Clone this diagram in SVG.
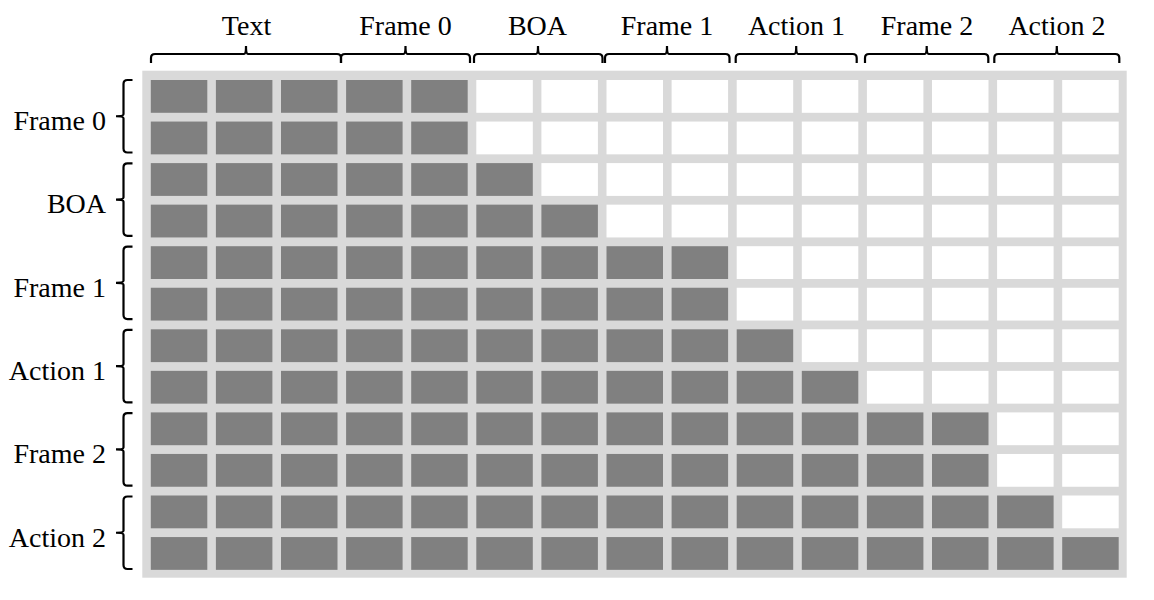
<svg xmlns="http://www.w3.org/2000/svg" width="1154" height="600" viewBox="0 0 1154 600">
<style>
.lbl{font-family:"Liberation Serif","Times New Roman",serif;font-size:28px;fill:#000}
.top{text-anchor:middle}
.left{text-anchor:end}
.on{fill:#808080}
.off{fill:#ffffff}
.brace{fill:none;stroke:#000;stroke-width:2.2}
</style>
<defs>
<rect id="c" width="56.5" height="32.8"/>
</defs>
<rect id="grid-bg" x="142.3" y="70.7" width="984.4" height="507" fill="#d9d9d9"/>
<g id="grid">
<g id="row0"><use href="#c" class="on" x="150.8" y="80"/><use href="#c" class="on" x="215.9" y="80"/><use href="#c" class="on" x="281" y="80"/><use href="#c" class="on" x="346.1" y="80"/><use href="#c" class="on" x="411.2" y="80"/><use href="#c" class="off" x="476.3" y="80"/><use href="#c" class="off" x="541.4" y="80"/><use href="#c" class="off" x="606.5" y="80"/><use href="#c" class="off" x="671.6" y="80"/><use href="#c" class="off" x="736.7" y="80"/><use href="#c" class="off" x="801.8" y="80"/><use href="#c" class="off" x="866.9" y="80"/><use href="#c" class="off" x="932" y="80"/><use href="#c" class="off" x="997.1" y="80"/><use href="#c" class="off" x="1062.2" y="80"/></g>
<g id="row1"><use href="#c" class="on" x="150.8" y="121.55"/><use href="#c" class="on" x="215.9" y="121.55"/><use href="#c" class="on" x="281" y="121.55"/><use href="#c" class="on" x="346.1" y="121.55"/><use href="#c" class="on" x="411.2" y="121.55"/><use href="#c" class="off" x="476.3" y="121.55"/><use href="#c" class="off" x="541.4" y="121.55"/><use href="#c" class="off" x="606.5" y="121.55"/><use href="#c" class="off" x="671.6" y="121.55"/><use href="#c" class="off" x="736.7" y="121.55"/><use href="#c" class="off" x="801.8" y="121.55"/><use href="#c" class="off" x="866.9" y="121.55"/><use href="#c" class="off" x="932" y="121.55"/><use href="#c" class="off" x="997.1" y="121.55"/><use href="#c" class="off" x="1062.2" y="121.55"/></g>
<g id="row2"><use href="#c" class="on" x="150.8" y="163.1"/><use href="#c" class="on" x="215.9" y="163.1"/><use href="#c" class="on" x="281" y="163.1"/><use href="#c" class="on" x="346.1" y="163.1"/><use href="#c" class="on" x="411.2" y="163.1"/><use href="#c" class="on" x="476.3" y="163.1"/><use href="#c" class="off" x="541.4" y="163.1"/><use href="#c" class="off" x="606.5" y="163.1"/><use href="#c" class="off" x="671.6" y="163.1"/><use href="#c" class="off" x="736.7" y="163.1"/><use href="#c" class="off" x="801.8" y="163.1"/><use href="#c" class="off" x="866.9" y="163.1"/><use href="#c" class="off" x="932" y="163.1"/><use href="#c" class="off" x="997.1" y="163.1"/><use href="#c" class="off" x="1062.2" y="163.1"/></g>
<g id="row3"><use href="#c" class="on" x="150.8" y="204.65"/><use href="#c" class="on" x="215.9" y="204.65"/><use href="#c" class="on" x="281" y="204.65"/><use href="#c" class="on" x="346.1" y="204.65"/><use href="#c" class="on" x="411.2" y="204.65"/><use href="#c" class="on" x="476.3" y="204.65"/><use href="#c" class="on" x="541.4" y="204.65"/><use href="#c" class="off" x="606.5" y="204.65"/><use href="#c" class="off" x="671.6" y="204.65"/><use href="#c" class="off" x="736.7" y="204.65"/><use href="#c" class="off" x="801.8" y="204.65"/><use href="#c" class="off" x="866.9" y="204.65"/><use href="#c" class="off" x="932" y="204.65"/><use href="#c" class="off" x="997.1" y="204.65"/><use href="#c" class="off" x="1062.2" y="204.65"/></g>
<g id="row4"><use href="#c" class="on" x="150.8" y="246.2"/><use href="#c" class="on" x="215.9" y="246.2"/><use href="#c" class="on" x="281" y="246.2"/><use href="#c" class="on" x="346.1" y="246.2"/><use href="#c" class="on" x="411.2" y="246.2"/><use href="#c" class="on" x="476.3" y="246.2"/><use href="#c" class="on" x="541.4" y="246.2"/><use href="#c" class="on" x="606.5" y="246.2"/><use href="#c" class="on" x="671.6" y="246.2"/><use href="#c" class="off" x="736.7" y="246.2"/><use href="#c" class="off" x="801.8" y="246.2"/><use href="#c" class="off" x="866.9" y="246.2"/><use href="#c" class="off" x="932" y="246.2"/><use href="#c" class="off" x="997.1" y="246.2"/><use href="#c" class="off" x="1062.2" y="246.2"/></g>
<g id="row5"><use href="#c" class="on" x="150.8" y="287.75"/><use href="#c" class="on" x="215.9" y="287.75"/><use href="#c" class="on" x="281" y="287.75"/><use href="#c" class="on" x="346.1" y="287.75"/><use href="#c" class="on" x="411.2" y="287.75"/><use href="#c" class="on" x="476.3" y="287.75"/><use href="#c" class="on" x="541.4" y="287.75"/><use href="#c" class="on" x="606.5" y="287.75"/><use href="#c" class="on" x="671.6" y="287.75"/><use href="#c" class="off" x="736.7" y="287.75"/><use href="#c" class="off" x="801.8" y="287.75"/><use href="#c" class="off" x="866.9" y="287.75"/><use href="#c" class="off" x="932" y="287.75"/><use href="#c" class="off" x="997.1" y="287.75"/><use href="#c" class="off" x="1062.2" y="287.75"/></g>
<g id="row6"><use href="#c" class="on" x="150.8" y="329.3"/><use href="#c" class="on" x="215.9" y="329.3"/><use href="#c" class="on" x="281" y="329.3"/><use href="#c" class="on" x="346.1" y="329.3"/><use href="#c" class="on" x="411.2" y="329.3"/><use href="#c" class="on" x="476.3" y="329.3"/><use href="#c" class="on" x="541.4" y="329.3"/><use href="#c" class="on" x="606.5" y="329.3"/><use href="#c" class="on" x="671.6" y="329.3"/><use href="#c" class="on" x="736.7" y="329.3"/><use href="#c" class="off" x="801.8" y="329.3"/><use href="#c" class="off" x="866.9" y="329.3"/><use href="#c" class="off" x="932" y="329.3"/><use href="#c" class="off" x="997.1" y="329.3"/><use href="#c" class="off" x="1062.2" y="329.3"/></g>
<g id="row7"><use href="#c" class="on" x="150.8" y="370.85"/><use href="#c" class="on" x="215.9" y="370.85"/><use href="#c" class="on" x="281" y="370.85"/><use href="#c" class="on" x="346.1" y="370.85"/><use href="#c" class="on" x="411.2" y="370.85"/><use href="#c" class="on" x="476.3" y="370.85"/><use href="#c" class="on" x="541.4" y="370.85"/><use href="#c" class="on" x="606.5" y="370.85"/><use href="#c" class="on" x="671.6" y="370.85"/><use href="#c" class="on" x="736.7" y="370.85"/><use href="#c" class="on" x="801.8" y="370.85"/><use href="#c" class="off" x="866.9" y="370.85"/><use href="#c" class="off" x="932" y="370.85"/><use href="#c" class="off" x="997.1" y="370.85"/><use href="#c" class="off" x="1062.2" y="370.85"/></g>
<g id="row8"><use href="#c" class="on" x="150.8" y="412.4"/><use href="#c" class="on" x="215.9" y="412.4"/><use href="#c" class="on" x="281" y="412.4"/><use href="#c" class="on" x="346.1" y="412.4"/><use href="#c" class="on" x="411.2" y="412.4"/><use href="#c" class="on" x="476.3" y="412.4"/><use href="#c" class="on" x="541.4" y="412.4"/><use href="#c" class="on" x="606.5" y="412.4"/><use href="#c" class="on" x="671.6" y="412.4"/><use href="#c" class="on" x="736.7" y="412.4"/><use href="#c" class="on" x="801.8" y="412.4"/><use href="#c" class="on" x="866.9" y="412.4"/><use href="#c" class="on" x="932" y="412.4"/><use href="#c" class="off" x="997.1" y="412.4"/><use href="#c" class="off" x="1062.2" y="412.4"/></g>
<g id="row9"><use href="#c" class="on" x="150.8" y="453.95"/><use href="#c" class="on" x="215.9" y="453.95"/><use href="#c" class="on" x="281" y="453.95"/><use href="#c" class="on" x="346.1" y="453.95"/><use href="#c" class="on" x="411.2" y="453.95"/><use href="#c" class="on" x="476.3" y="453.95"/><use href="#c" class="on" x="541.4" y="453.95"/><use href="#c" class="on" x="606.5" y="453.95"/><use href="#c" class="on" x="671.6" y="453.95"/><use href="#c" class="on" x="736.7" y="453.95"/><use href="#c" class="on" x="801.8" y="453.95"/><use href="#c" class="on" x="866.9" y="453.95"/><use href="#c" class="on" x="932" y="453.95"/><use href="#c" class="off" x="997.1" y="453.95"/><use href="#c" class="off" x="1062.2" y="453.95"/></g>
<g id="row10"><use href="#c" class="on" x="150.8" y="495.5"/><use href="#c" class="on" x="215.9" y="495.5"/><use href="#c" class="on" x="281" y="495.5"/><use href="#c" class="on" x="346.1" y="495.5"/><use href="#c" class="on" x="411.2" y="495.5"/><use href="#c" class="on" x="476.3" y="495.5"/><use href="#c" class="on" x="541.4" y="495.5"/><use href="#c" class="on" x="606.5" y="495.5"/><use href="#c" class="on" x="671.6" y="495.5"/><use href="#c" class="on" x="736.7" y="495.5"/><use href="#c" class="on" x="801.8" y="495.5"/><use href="#c" class="on" x="866.9" y="495.5"/><use href="#c" class="on" x="932" y="495.5"/><use href="#c" class="on" x="997.1" y="495.5"/><use href="#c" class="off" x="1062.2" y="495.5"/></g>
<g id="row11"><use href="#c" class="on" x="150.8" y="537.05"/><use href="#c" class="on" x="215.9" y="537.05"/><use href="#c" class="on" x="281" y="537.05"/><use href="#c" class="on" x="346.1" y="537.05"/><use href="#c" class="on" x="411.2" y="537.05"/><use href="#c" class="on" x="476.3" y="537.05"/><use href="#c" class="on" x="541.4" y="537.05"/><use href="#c" class="on" x="606.5" y="537.05"/><use href="#c" class="on" x="671.6" y="537.05"/><use href="#c" class="on" x="736.7" y="537.05"/><use href="#c" class="on" x="801.8" y="537.05"/><use href="#c" class="on" x="866.9" y="537.05"/><use href="#c" class="on" x="932" y="537.05"/><use href="#c" class="on" x="997.1" y="537.05"/><use href="#c" class="on" x="1062.2" y="537.05"/></g>
</g>
<g id="top-braces" class="brace">
<path d="M151,63 L151,58 Q151,54 155,54 L244,54 Q246,54 246,46 Q246,54 248,54 L337,54 Q341,54 341,58 L341,63"/>
<path d="M341,63 L341,58 Q341,54 345,54 L403.5,54 Q405.5,54 405.5,46 Q405.5,54 407.5,54 L466,54 Q470,54 470,58 L470,63"/>
<path d="M474,63 L474,58 Q474,54 478,54 L536,54 Q538,54 538,46 Q538,54 540,54 L598.5,54 Q602.5,54 602.5,58 L602.5,63"/>
<path d="M605,63 L605,58 Q605,54 609,54 L665,54 Q667,54 667,46 Q667,54 669,54 L725.5,54 Q729.5,54 729.5,58 L729.5,63"/>
<path d="M735.7,63 L735.7,58 Q735.7,54 739.7,54 L794.2,54 Q796.2,54 796.2,46 Q796.2,54 798.2,54 L852.7,54 Q856.7,54 856.7,58 L856.7,63"/>
<path d="M865,63 L865,58 Q865,54 869,54 L924.7,54 Q926.7,54 926.7,46 Q926.7,54 928.7,54 L984.3,54 Q988.3,54 988.3,58 L988.3,63"/>
<path d="M994.3,63 L994.3,58 Q994.3,54 998.3,54 L1054.8,54 Q1056.8,54 1056.8,46 Q1056.8,54 1058.8,54 L1115.3,54 Q1119.3,54 1119.3,58 L1119.3,63"/>
</g>
<g id="left-braces" class="brace">
<path d="M132.5,80 L127.5,80 Q123.5,80 123.5,84 L123.5,114.25 Q123.5,116.25 116,116.25 Q123.5,116.25 123.5,118.25 L123.5,148.5 Q123.5,152.5 127.5,152.5 L132.5,152.5"/>
<path d="M132.5,163.3 L127.5,163.3 Q123.5,163.3 123.5,167.3 L123.5,197.55 Q123.5,199.55 116,199.55 Q123.5,199.55 123.5,201.55 L123.5,231.8 Q123.5,235.8 127.5,235.8 L132.5,235.8"/>
<path d="M132.5,246.6 L127.5,246.6 Q123.5,246.6 123.5,250.6 L123.5,280.85 Q123.5,282.85 116,282.85 Q123.5,282.85 123.5,284.85 L123.5,315.1 Q123.5,319.1 127.5,319.1 L132.5,319.1"/>
<path d="M132.5,329.9 L127.5,329.9 Q123.5,329.9 123.5,333.9 L123.5,364.15 Q123.5,366.15 116,366.15 Q123.5,366.15 123.5,368.15 L123.5,398.4 Q123.5,402.4 127.5,402.4 L132.5,402.4"/>
<path d="M132.5,413.2 L127.5,413.2 Q123.5,413.2 123.5,417.2 L123.5,447.45 Q123.5,449.45 116,449.45 Q123.5,449.45 123.5,451.45 L123.5,481.7 Q123.5,485.7 127.5,485.7 L132.5,485.7"/>
<path d="M132.5,496.5 L127.5,496.5 Q123.5,496.5 123.5,500.5 L123.5,530.75 Q123.5,532.75 116,532.75 Q123.5,532.75 123.5,534.75 L123.5,565 Q123.5,569 127.5,569 L132.5,569"/>
</g>
<g id="top-labels" class="lbl top">
<text x="246.5" y="34.5">Text</text>
<text x="405.5" y="34.5">Frame 0</text>
<text x="537.5" y="34.5">BOA</text>
<text x="667" y="34.5">Frame 1</text>
<text x="796.5" y="34.5">Action 1</text>
<text x="927" y="34.5">Frame 2</text>
<text x="1057" y="34.5">Action 2</text>
</g>
<g id="left-labels" class="lbl left">
<text x="106" y="130">Frame 0</text>
<text x="106" y="213.3">BOA</text>
<text x="106" y="296.6">Frame 1</text>
<text x="106" y="379.9">Action 1</text>
<text x="106" y="463.2">Frame 2</text>
<text x="106" y="546.5">Action 2</text>
</g>
</svg>
